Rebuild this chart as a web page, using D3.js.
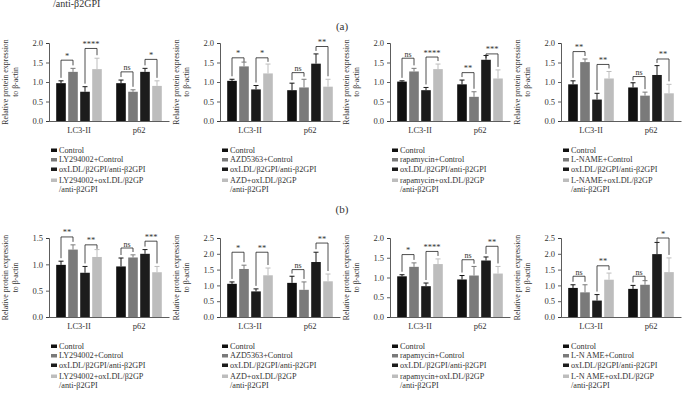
<!DOCTYPE html>
<html><head><meta charset="utf-8">
<script src="https://cdn.jsdelivr.net/npm/d3@7"></script>
<style>
html,body{margin:0;padding:0;background:#fff;}
svg text{font-family:"Liberation Serif","DejaVu Serif",serif;fill:#333;}
</style></head>
<body><svg id="c" width="684" height="395"></svg>
<script>
// ---------- data ----------
const categories = ["LC3-II", "p62"];
const seriesNames = ["s1", "s2", "s3", "s4"];
const colors = ["#111111", "#7a7a7a", "#1c1c1c", "#bdbdbd"];

// legends row (a) and row (b)
const legendA1 = ["Control", "LY294002+Control", "oxLDL/β2GPI/anti-β2GPI", "LY294002+oxLDL/β2GP", "/anti-β2GPI"];
const legendA2 = ["Control", "AZD5363+Control", "oxLDL/β2GPI/anti-β2GPI", "AZD+oxLDL/β2GP", "/anti-β2GPI"];
const legendA3 = ["Control", "rapamycin+Control", "oxLDL/β2GPI/anti-β2GPI", "rapamycin+oxLDL/β2GP", "/anti-β2GPI"];
const legendA4 = ["Control", "L-NAME+Control", "oxLDL/β2GPI/anti-β2GPI", "L-NAME+oxLDL/β2GP", "/anti-β2GPI"];
const legendB4 = ["Control", "L-N AME+Control", "oxLDL/β2GPI/anti-β2GPI", "L-N AME+oxLDL/β2GP", "/anti-β2GPI"];

// values [LC3-II bars], [p62 bars]
const valuesA1 = [[0.97, 1.26, 0.75, 1.33], [0.97, 0.75, 1.26, 0.90]];
const errorsA1 = [[0.06, 0.09, 0.13, 0.28], [0.08, 0.05, 0.09, 0.13]];
const valuesA2 = [[1.03, 1.40, 0.81, 1.22], [0.79, 0.86, 1.47, 0.88]];
const errorsA2 = [[0.04, 0.11, 0.10, 0.24], [0.18, 0.21, 0.25, 0.19]];
const valuesA3 = [[1.01, 1.27, 0.79, 1.33], [0.94, 0.62, 1.57, 1.09]];
const errorsA3 = [[0.02, 0.08, 0.07, 0.13], [0.11, 0.13, 0.11, 0.22]];
const valuesA4 = [[0.94, 1.51, 0.55, 1.09], [0.86, 0.65, 1.18, 0.71]];
const errorsA4 = [[0.09, 0.08, 0.16, 0.18], [0.12, 0.09, 0.24, 0.23]];
const valuesB1 = [[0.99, 1.28, 0.84, 1.14], [0.96, 1.13, 1.20, 0.85]];
const errorsB1 = [[0.07, 0.09, 0.12, 0.14], [0.16, 0.05, 0.08, 0.11]];
const valuesB2 = [[1.05, 1.52, 0.81, 1.32], [1.08, 0.86, 1.74, 1.13]];
const errorsB2 = [[0.06, 0.12, 0.08, 0.23], [0.21, 0.25, 0.31, 0.23]];
const valuesB3 = [[1.03, 1.27, 0.78, 1.34], [0.95, 1.05, 1.43, 1.10]];
const errorsB3 = [[0.04, 0.10, 0.08, 0.13], [0.10, 0.23, 0.09, 0.18]];
const valuesB4 = [[0.92, 0.78, 0.52, 1.18], [0.89, 1.02, 1.99, 1.42]];
const errorsB4 = [[0.10, 0.24, 0.19, 0.21], [0.11, 0.13, 0.37, 0.45]];

// significance: [category index, pair (0 = bars1-2, 1 = bars3-4), label, bracket value]
const sigA1 = [[0, 0, "*", 1.56], [0, 1, "****", 1.86], [1, 0, "ns", 1.26], [1, 1, "*", 1.58]];
const sigA2 = [[0, 0, "*", 1.62], [0, 1, "*", 1.62], [1, 0, "ns", 1.24], [1, 1, "**", 1.91]];
const sigA3 = [[0, 0, "ns", 1.61], [0, 1, "****", 1.64], [1, 0, "**", 1.24], [1, 1, "***", 1.72]];
const sigA4 = [[0, 0, "**", 1.78], [0, 1, "**", 1.45], [1, 0, "ns", 1.14], [1, 1, "**", 1.59]];
const sigB1 = [[0, 0, "**", 1.52], [0, 1, "**", 1.37], [1, 0, "ns", 1.31], [1, 1, "***", 1.44]];
const sigB2 = [[0, 0, "*", 2.05], [0, 1, "**", 2.05], [1, 0, "ns", 1.50], [1, 1, "**", 2.34]];
const sigB3 = [[0, 0, "*", 1.58], [0, 1, "****", 1.66], [1, 0, "ns", 1.45], [1, 1, "**", 1.79]];
const sigB4 = [[0, 0, "ns", 1.29], [0, 1, "**", 1.62], [1, 0, "ns", 1.29], [1, 1, "*", 2.50]];

const yMaxA = [2.0, 2.0, 2.0, 2.0];
const yMaxB = [1.5, 2.5, 2.0, 2.5];
const yTickStep = 0.5;

// ---------- layout ----------
const svg = d3.select("#c");
const axisXs = [49, 220, 390, 561];
const plotW = 120;
const rows = [
  {top: 43, bottom: 121, legendTop: 150, maxes: yMaxA,
   panels: [[valuesA1, errorsA1, sigA1, legendA1], [valuesA2, errorsA2, sigA2, legendA2],
            [valuesA3, errorsA3, sigA3, legendA3], [valuesA4, errorsA4, sigA4, legendA4]]},
  {top: 238, bottom: 317, legendTop: 346, maxes: yMaxB,
   panels: [[valuesB1, errorsB1, sigB1, legendA1], [valuesB2, errorsB2, sigB2, legendA2],
            [valuesB3, errorsB3, sigB3, legendA3], [valuesB4, errorsB4, sigB4, legendB4]]}
];
const legendOffsets = [0, 9.5, 19, 30, 39];

// header texts
svg.append("text").attr("x", 53).attr("y", 7).attr("font-size", 10).text("/anti-β2GPI");
svg.append("text").attr("x", 342).attr("y", 30).attr("text-anchor", "middle").attr("font-size", 11).text("(a)");
svg.append("text").attr("x", 342).attr("y", 213).attr("text-anchor", "middle").attr("font-size", 11).text("(b)");

rows.forEach(row => {
  row.panels.forEach((p, pi) => {
    const [vals, errs, sigs, leg] = p;
    const ax = axisXs[pi];
    const g = svg.append("g").attr("transform", `translate(${ax},0)`);
    const y = d3.scaleLinear().domain([0, row.maxes[pi]]).range([row.bottom, row.top]);
    const x0 = d3.scaleBand().domain(categories).range([0, plotW]).paddingInner(0.2).paddingOuter(0.1);
    const x1 = d3.scaleBand().domain(seriesNames).range([0, x0.bandwidth()]).paddingInner(0.2).paddingOuter(0.1);

    // bars + error bars
    categories.forEach((cat, ci) => {
      const cg = g.append("g").attr("transform", `translate(${x0(cat)},0)`);
      seriesNames.forEach((s, si) => {
        const v = vals[ci][si], e = errs[ci][si];
        const bx = x1(s), bw = x1.bandwidth();
        cg.append("rect").attr("x", bx).attr("width", bw)
          .attr("y", y(v)).attr("height", y(0) - y(v)).attr("fill", colors[si]);
        const cx = bx + bw / 2;
        cg.append("line").attr("x1", cx).attr("x2", cx).attr("y1", y(v)).attr("y2", y(v + e))
          .attr("stroke", colors[si]).attr("stroke-width", 1);
        cg.append("line").attr("x1", cx - 2.5).attr("x2", cx + 2.5).attr("y1", y(v + e)).attr("y2", y(v + e))
          .attr("stroke", colors[si]).attr("stroke-width", 1);
      });
    });

    // significance brackets
    sigs.forEach(([ci, pair, label, val]) => {
      const cat = categories[ci];
      const a = pair * 2, b = pair * 2 + 1;
      const xa = x0(cat) + x1(seriesNames[a]) + x1.bandwidth() / 2;
      const xb = x0(cat) + x1(seriesNames[b]) + x1.bandwidth() / 2;
      const by = y(val);
      const ta = y(vals[ci][a] + errs[ci][a]), tb = y(vals[ci][b] + errs[ci][b]);
      const la = Math.max(by + 4, ta - 3), lb = Math.max(by + 4, tb - 3);
      g.append("path").attr("d", `M${xa},${la}V${by}H${xb}V${lb}`)
        .attr("fill", "none").attr("stroke", "#222").attr("stroke-width", 0.8);
      g.append("text").attr("x", (xa + xb) / 2).attr("y", by - 1.5).attr("text-anchor", "middle")
        .attr("font-size", label === "ns" ? 8 : 8.5).text(label);
    });

    // axes
    const yAxis = d3.axisLeft(y).tickValues(d3.range(0, row.maxes[pi] + 1e-9, yTickStep))
      .tickFormat(d3.format(".1f")).tickSize(3).tickPadding(3);
    const ya = g.append("g").call(yAxis);
    ya.selectAll("text").attr("font-size", 8.5).style("font-family", "Liberation Serif");
    ya.selectAll("path,line").attr("stroke", "#333").attr("stroke-width", 0.8);

    const xAxis = d3.axisBottom(x0).tickSize(0).tickPadding(6);
    const xa = g.append("g").attr("transform", `translate(0,${row.bottom})`).call(xAxis);
    xa.selectAll("text").attr("font-size", 8.5).style("font-family", "Liberation Serif");
    xa.selectAll("path").attr("stroke", "#333").attr("stroke-width", 0.8);

    // y title
    const cy = (row.top + row.bottom) / 2;
    g.append("text").attr("transform", `translate(-41,${cy}) rotate(-90)`)
      .attr("text-anchor", "middle").attr("font-size", 7.8).text("Relative protein expression");
    g.append("text").attr("transform", `translate(-31,${cy}) rotate(-90)`)
      .attr("text-anchor", "middle").attr("font-size", 7.8).text("to β-actin");

    // legend
    leg.forEach((t, li) => {
      const ly = row.legendTop + legendOffsets[li];
      if (li < 4) {
        g.append("rect").attr("x", 2).attr("y", ly - 1.5).attr("width", 6).attr("height", 3.5).attr("fill", colors[li]);
      }
      g.append("text").attr("x", 10).attr("y", ly).attr("dy", "0.35em").attr("font-size", 8.2).text(t);
    });
  });
});
</script></body></html>
